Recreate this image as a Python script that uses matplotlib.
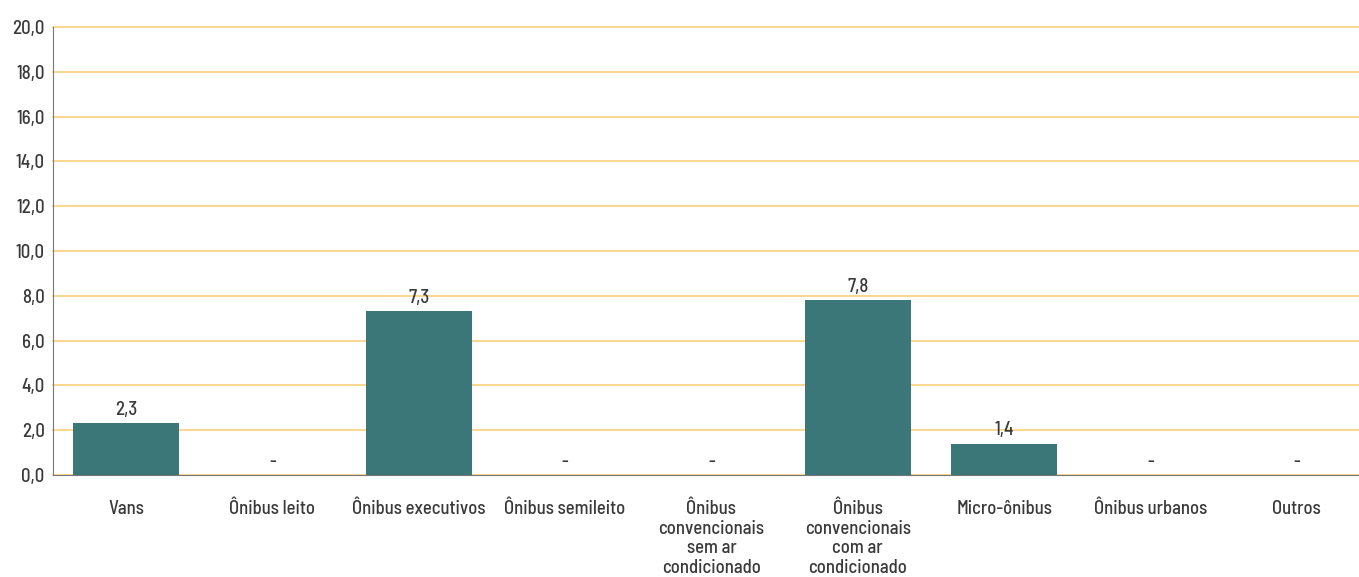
import matplotlib.pyplot as plt

categories = [
    "Vans",
    "Ônibus leito",
    "Ônibus executivos",
    "Ônibus semileito",
    "Ônibus\nconvencionais\nsem ar\ncondicionado",
    "Ônibus\nconvencionais\ncom ar\ncondicionado",
    "Micro-ônibus",
    "Ônibus urbanos",
    "Outros",
]
values = [2.3, 0.0, 7.3, 0.0, 0.0, 7.8, 1.4, 0.0, 0.0]
yticks = [0, 2, 4, 6, 8, 10, 12, 14, 16, 18, 20]

plt.rcParams["font.family"] = ["Barlow Semi Condensed", "DejaVu Sans"]
plt.rcParams["font.weight"] = 500

text_color = "#3a3a3a"
bar_color = "#3b7679"
grid_color = "#f8d27c"

fig = plt.figure(figsize=(13.59, 5.77), dpi=100)
# axes run a little past the right edge of the figure
ax = fig.add_axes([0.039, 0.177, 0.969, 0.776])

x = list(range(len(categories)))
ax.bar(x, values, width=0.725, color=bar_color, zorder=3)

# value labels, zero shown as a dash
for xi, v in zip(x, values):
    label = "-" if v == 0 else f"{v:.1f}".replace(".", ",")
    ax.annotate(label, (xi, v), xytext=(0, 3), textcoords="offset points",
                ha="center", va="bottom", fontsize=13.5, color=text_color)

ax.set_xlim(-0.5, len(categories) - 0.5)
ax.set_ylim(0, 20)
ax.set_yticks(yticks)
ax.set_yticklabels([f"{t:.1f}".replace(".", ",") for t in yticks])
ax.set_xticks(x)
ax.set_xticklabels(categories, linespacing=1.12)

ax.yaxis.grid(True, color=grid_color, linewidth=1.2, zorder=0)
for gl in ax.get_ygridlines():
    gl.set_clip_on(False)
ax.set_axisbelow(True)
for s in ["top", "right"]:
    ax.spines[s].set_visible(False)
ax.spines["left"].set_color("#777777")
ax.spines["bottom"].set_color("#777777")
ax.spines["bottom"].set_zorder(4)
ax.tick_params(axis="both", length=0, labelsize=13.5, colors=text_color)
ax.tick_params(axis="x", pad=18)
ax.tick_params(axis="y", pad=6)

fig.savefig("out.png", dpi=100)
